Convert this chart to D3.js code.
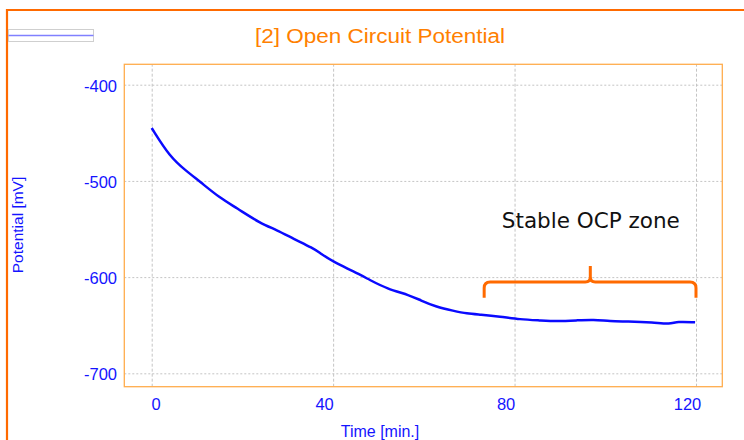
<!DOCTYPE html>
<html>
<head>
<meta charset="utf-8">
<script src="https://cdn.jsdelivr.net/npm/d3@7"></script>
<style>
  body { margin: 0; background: #fff; }
  svg { display: block; }
</style>
</head>
<body>
<svg width="744" height="440"></svg>
<script>
var timeMin = [0, 4.0, 7.7, 10.7, 15.1, 18.7, 23.9, 27.6, 31.2, 35.6, 37.1, 40.0, 44.5, 48.1, 51.8, 57.0, 59.2, 62.8, 66.5, 69.5, 72.4, 76.8, 81.2, 85.6, 89.3, 93.7, 97.4, 101.1, 104.7, 110.6, 114.3, 115.8, 119.8];
var potential = [-445, -475, -490, -501, -518, -528, -544, -551, -560, -570, -575, -584, -594, -603, -612, -619, -624, -631, -635, -638, -639, -641, -644, -645, -646, -645, -644, -646, -646, -647, -649, -646, -647];
var xTicks = [0, 40, 80, 120];
var yTicks = [-400, -500, -600, -700];
var zone = { from: 73.3, to: 120, tip: 96.7, level: -605, top: -588.5, foot: -621.5 };
var zoneLabel = { t: 77.2, v: -549.3, text: "Stable OCP zone" };

var svg = d3.select("svg"),
    width = +svg.attr("width"),
    height = +svg.attr("height");

var plot = { left: 124.3, top: 64.3, right: 722.3, bottom: 386.7 };

var x = d3.scaleLinear().domain([-6.04, 125.8]).range([plot.left, plot.right]);
var y = d3.scaleLinear().domain([-378.8, -713.9]).range([plot.top, plot.bottom]);

var blue = "#1414ff";

// outer frame
svg.append("path")
    .attr("d", "M7," + height + " V10 H" + width)
    .attr("fill", "none")
    .attr("stroke", "#ff6a00")
    .attr("stroke-width", 2.2);

// little legend box
svg.append("rect")
    .attr("x", 8.5).attr("y", 29.5)
    .attr("width", 85).attr("height", 12)
    .attr("fill", "#fff")
    .attr("stroke", "#cfcfcf");
svg.append("line")
    .attr("x1", 8.5).attr("x2", 93.5)
    .attr("y1", 35.5).attr("y2", 35.5)
    .attr("stroke", "#8080ff")
    .attr("stroke-width", 1.5);

svg.append("text")
    .attr("x", 380).attr("y", 43)
    .attr("text-anchor", "middle")
    .attr("font-family", "Liberation Sans, Arial, sans-serif")
    .attr("font-size", 19.5)
    .attr("textLength", 250)
    .attr("lengthAdjust", "spacingAndGlyphs")
    .attr("fill", "#ff8000")
    .text("[2] Open Circuit Potential");

// grid
var gx = svg.append("g")
    .attr("transform", "translate(0," + plot.bottom + ")")
    .call(d3.axisBottom(x).tickValues(xTicks).tickSize(-(plot.bottom - plot.top)).tickFormat(""));
var gy = svg.append("g")
    .attr("transform", "translate(" + plot.left + ",0)")
    .call(d3.axisLeft(y).tickValues(yTicks).tickSize(-(plot.right - plot.left)).tickFormat(""));
gx.select(".domain").remove();
gy.select(".domain").remove();
gx.selectAll("line").attr("stroke", "#c4c4c4").attr("stroke-dasharray", "3,2");
gy.selectAll("line").attr("stroke", "#c4c4c4").attr("stroke-dasharray", "2,2");

// tick labels
svg.append("g").selectAll("text")
    .data(xTicks).enter().append("text")
    .attr("x", function(d) { return x(d) + (d == 0 ? 4.5 : -8.5); })
    .attr("y", 410)
    .attr("text-anchor", "middle")
    .attr("font-family", "Liberation Sans, Arial, sans-serif")
    .attr("font-size", 16.5)
    .attr("fill", blue)
    .text(function(d) { return d; });

svg.append("g").selectAll("text")
    .data(yTicks).enter().append("text")
    .attr("x", 117)
    .attr("y", function(d) { return y(d) + 1; })
    .attr("dy", "0.36em")
    .attr("text-anchor", "end")
    .attr("font-family", "Liberation Sans, Arial, sans-serif")
    .attr("font-size", 16.5)
    .attr("fill", blue)
    .text(function(d) { return d; });

svg.append("text")
    .attr("x", 380).attr("y", 437)
    .attr("text-anchor", "middle")
    .attr("font-family", "Liberation Sans, Arial, sans-serif")
    .attr("font-size", 16)
    .attr("fill", blue)
    .text("Time [min.]");

svg.append("text")
    .attr("transform", "translate(23,225) rotate(-90)")
    .attr("text-anchor", "middle")
    .attr("font-family", "Liberation Sans, Arial, sans-serif")
    .attr("font-size", 15.5)
    .attr("fill", blue)
    .text("Potential [mV]");

// plot border
svg.append("rect")
    .attr("x", plot.left).attr("y", plot.top)
    .attr("width", plot.right - plot.left)
    .attr("height", plot.bottom - plot.top)
    .attr("fill", "none")
    .attr("stroke", "#ffad4d")
    .attr("stroke-width", 1.3);

var line = d3.line()
    .x(function(d, i) { return x(timeMin[i]); })
    .y(function(d) { return y(d); })
    .curve(d3.curveBasis);

svg.append("path")
    .datum(potential)
    .attr("d", line)
    .attr("fill", "none")
    .attr("stroke", "#0a0aff")
    .attr("stroke-width", 2.5);

// brace annotation
var r = 6;
var bx0 = x(zone.from), bx1 = x(zone.to), bm = x(zone.tip),
    by = y(zone.level), bt = y(zone.top), bf = y(zone.foot);
var brace = "M" + bx0 + "," + bf + " V" + (by + r) + " Q" + bx0 + "," + by + " " + (bx0 + r) + "," + by +
    " H" + (bm - 5) + " Q" + bm + "," + by + " " + bm + "," + (by - 5) + " V" + bt +
    " M" + bm + "," + (by - 5) + " Q" + bm + "," + by + " " + (bm + 5) + "," + by +
    " H" + (bx1 - r) + " Q" + bx1 + "," + by + " " + bx1 + "," + (by + r) + " V" + bf;
svg.append("path")
    .attr("d", brace)
    .attr("fill", "none")
    .attr("stroke", "#ff6a00")
    .attr("stroke-width", 3);

svg.append("text")
    .attr("x", x(zoneLabel.t)).attr("y", y(zoneLabel.v))
    .attr("font-family", "DejaVu Sans, Verdana, sans-serif")
    .attr("font-size", 21.5)
    .attr("fill", "#111")
    .text(zoneLabel.text);
</script>
</body>
</html>
